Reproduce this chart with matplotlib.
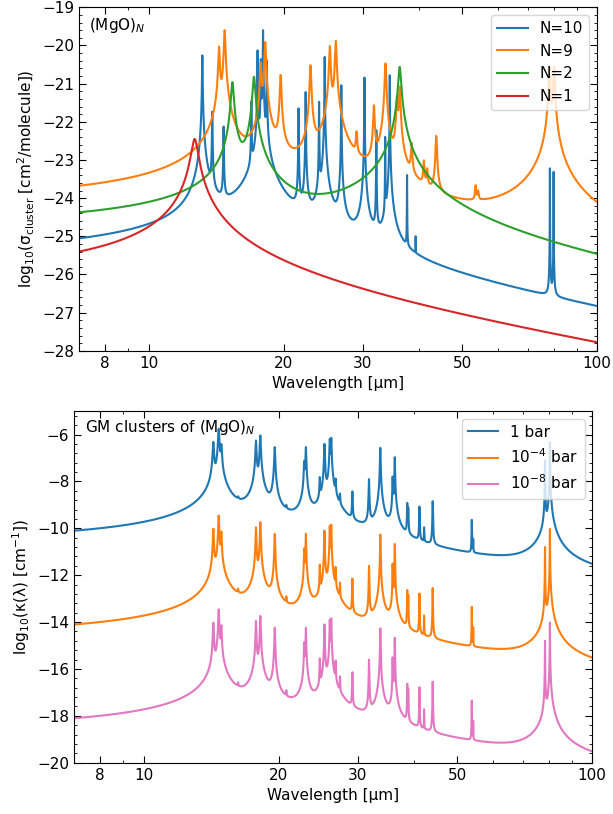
import numpy as np
import matplotlib
matplotlib.use("Agg")
import matplotlib.pyplot as plt
from matplotlib.ticker import FixedLocator, ScalarFormatter, NullFormatter, MultipleLocator

# --- top panel: band positions [um] and log10 peak cross sections
n10_wl = [13.18, 13.87, 14.7, 16.95, 17.5, 17.8, 18.0, 18.35, 21.6, 22.4, 24.0, 24.7,
          26.9, 30.3, 32.2, 33.7, 34.5, 37.7, 39.4, 78.5, 80.0]
n10_pk = [-20.26, -21.74, -22.13, -21.48, -20.13, -20.37, -19.6, -20.39, -21.65, -21.22,
          -21.48, -20.3, -21.04, -20.84, -22.22, -22.4, -20.78, -23.4, -25.2, -23.22, -23.31]
n9_wl = [14.36, 14.78, 17.78, 18.2, 19.7, 22.96, 25.36, 26.15, 29.09, 31.8, 33.75, 35.8,
         36.3, 38.6, 41.1, 41.8, 43.8, 53.6, 54.3, 78.3, 80.2]
n9_pk = [-20.04, -19.6, -20.47, -19.91, -20.78, -20.52, -20.02, -19.88, -22.4, -21.59,
         -20.47, -21.35, -21.09, -22.64, -23.14, -23.44, -22.38, -23.9, -24.2, -20.56, -20.56]
n2_wl = [15.38, 17.18, 36.3]
n2_pk = [-20.96, -20.82, -20.56]
n1_wl = [12.67]
n1_pk = [-22.45]

# line half width [um] at 15 um and how it scales with wavelength (0: fixed, 1: ~lambda)
widths_top = {"N=10": (0.013, 0), "N=9": (0.045, 1), "N=2": (0.0885, 1), "N=1": (0.225, 1)}

# --- bottom panel: GM cluster opacity at 1 bar
gm_wl = [14.3, 14.7, 14.9, 16.24, 17.8, 18.2, 19.6, 20.8, 22.8, 23.0, 24.7, 25.3, 26.0,
         26.2, 26.8, 27.4, 29.2, 31.8, 33.7, 35.9, 36.3, 38.7, 38.9, 41.2, 42.2, 44.1,
         53.9, 54.3, 78.5, 80.5]
gm_pk = [-6.33, -5.76, -6.47, -9.4, -6.26, -6.04, -6.54, -9.6, -7.18, -6.54, -7.89, -6.4,
         -6.2, -6.15, -8.03, -8.74, -8.46, -7.91, -6.57, -7.82, -6.97, -8.95, -9.17,
         -9.09, -10.09, -8.85, -9.66, -10.6, -7.1, -6.33]
pressures = ["1 bar", "10$^{-4}$ bar", "10$^{-8}$ bar"]
p_offset = [0, -4, -8]
p_boost = [0.0, 0.3, 0.3]
gm_width = (0.035, 0)

wl = np.geomspace(7, 100, 150000)


def spectrum(centers, logpeaks, width, boost=0.0):
    w0, k = width
    out = np.zeros_like(wl)
    for c, p in zip(centers, logpeaks):
        g = w0 * (c / 15) ** k * 10 ** (-boost / 2)
        out += 10 ** (p + boost) * g**2 / ((wl - c) ** 2 + g**2)
    return np.log10(out)


def style_axis(ax, ymin, ymax, ymajor, yminor):
    ax.set_xscale("log")
    ax.set_xlim(7, 100)
    ax.set_ylim(ymin, ymax)
    ax.xaxis.set_major_locator(FixedLocator([8, 10, 20, 30, 50, 100]))
    ax.xaxis.set_minor_locator(FixedLocator([7, 9, 40, 60, 70, 80, 90]))
    ax.xaxis.set_major_formatter(ScalarFormatter())
    ax.xaxis.set_minor_formatter(NullFormatter())
    ax.yaxis.set_major_locator(MultipleLocator(ymajor))
    ax.yaxis.set_minor_locator(MultipleLocator(yminor))
    ax.tick_params(which="both", direction="in", top=True, right=True, labelsize=11)
    ax.tick_params(which="major", length=5)
    ax.tick_params(which="minor", length=2.5)
    ax.set_xlabel("Wavelength [μm]", fontsize=11)


fig = plt.figure(figsize=(6.13, 8.14), dpi=100)
ax1 = fig.add_axes([0.129, 0.569, 0.845, 0.422])
ax2 = fig.add_axes([0.121, 0.063, 0.845, 0.432])

top_sets = [("N=10", n10_wl, n10_pk), ("N=9", n9_wl, n9_pk),
            ("N=2", n2_wl, n2_pk), ("N=1", n1_wl, n1_pk)]
for name, w, p in top_sets:
    ax1.plot(wl, spectrum(w, p, widths_top[name]), lw=1.5, label=name)
style_axis(ax1, -28, -19, 1, 0.2)
ax1.set_ylabel(r"log$_{10}$(σ$_{\rm cluster}$ [cm$^2$/molecule])", fontsize=11)
ax1.text(0.02, 0.975, r"(MgO)$_N$", transform=ax1.transAxes, va="top", fontsize=11)
ax1.legend(loc="upper right", fontsize=11)

colors = ["tab:blue", "tab:orange", "tab:pink"]
for lab, off, b, c in zip(pressures, p_offset, p_boost, colors):
    ax2.plot(wl, spectrum(gm_wl, gm_pk, gm_width, b) + off, lw=1.5, color=c, label=lab)
style_axis(ax2, -20, -5, 2, 0.4)
ax2.set_ylabel(r"log$_{10}$(κ(λ) [cm$^{-1}$])", fontsize=11)
ax2.text(0.02, 0.98, r"GM clusters of (MgO)$_N$", transform=ax2.transAxes, va="top", fontsize=11)
ax2.legend(loc="upper right", fontsize=11)

fig.savefig("out.png", dpi=100)
